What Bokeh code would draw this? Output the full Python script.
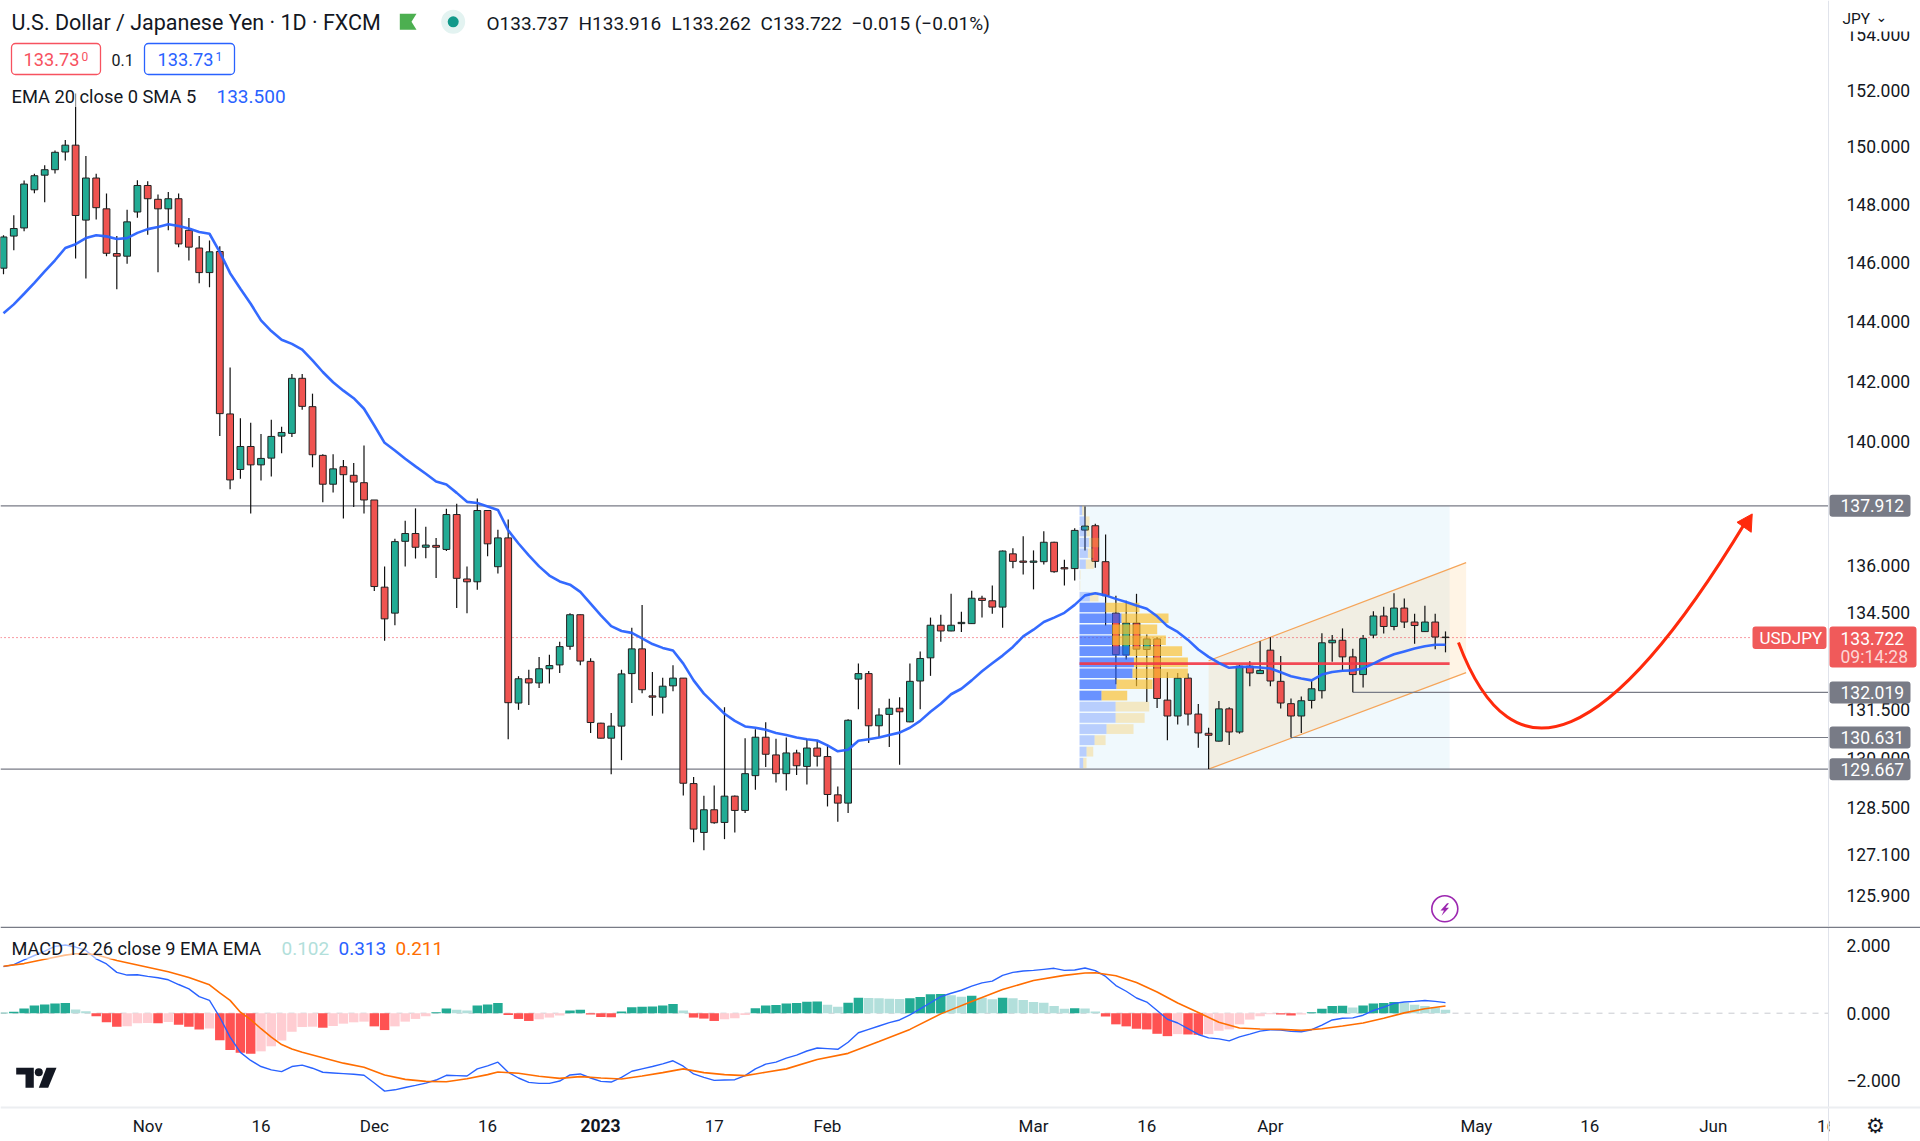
import math
from bokeh.plotting import figure
from bokeh.layouts import column
from bokeh.models import Range1d, FixedTicker, PrintfTickFormatter, Label, BoxAnnotation
from bokeh.embed import file_html
from bokeh.resources import INLINE

# ---------- DATA ----------
open_ = [145.80,146.90,147.18,148.50,149.01,149.20,149.82,150.06,147.45,148.91,147.84,146.30,146.21,147.73,148.65,148.17,147.84,148.19,147.10,146.49,145.65,146.37,140.91,139.09,139.84,139.24,139.46,140.18,140.27,142.09,141.15,139.55,138.61,139.18,138.90,138.66,138.10,135.31,134.49,136.77,137.02,136.58,136.64,136.51,137.63,135.57,135.48,137.76,135.96,136.88,131.69,132.44,132.31,132.75,132.87,133.45,134.44,132.98,131.07,130.61,130.98,132.60,133.37,131.91,131.87,132.22,132.46,129.23,127.76,128.44,128.06,128.85,128.42,129.47,130.64,130.10,129.53,130.16,129.75,130.31,130.05,128.89,128.64,132.43,132.60,130.99,131.34,131.53,131.11,132.37,133.09,134.11,133.93,134.16,134.16,134.96,134.88,134.68,136.37,136.14,136.10,136.12,136.74,135.93,135.90,137.13,137.27,136.12,134.49,133.18,134.18,133.35,133.68,131.78,131.29,132.46,131.35,130.76,130.52,131.51,130.80,132.83,132.60,133.33,132.36,131.67,131.29,131.77,132.07,133.56,133.64,133.12,132.57,133.80,134.40,134.07,134.65,134.21,133.91,134.21,133.737]
high = [146.93,147.62,148.82,149.06,149.36,149.87,150.24,151.89,149.68,149.06,148.37,146.90,147.81,148.83,148.80,148.34,148.42,148.37,147.52,146.90,146.75,146.55,142.45,140.77,140.62,140.25,140.72,140.49,142.23,142.23,141.58,139.59,139.59,139.40,139.30,139.87,138.10,135.97,136.85,137.43,137.83,137.24,136.88,137.82,137.98,135.97,138.15,137.78,137.14,137.47,132.52,132.72,133.12,133.19,133.59,134.49,134.45,133.08,131.08,131.38,132.72,134.03,134.75,132.65,132.47,132.86,132.46,129.43,128.86,129.17,131.56,128.87,130.61,130.88,131.10,130.59,130.63,130.26,130.58,130.53,130.41,129.14,131.19,132.91,132.68,131.53,131.82,131.87,132.91,133.29,134.35,134.44,135.10,134.53,135.20,135.04,135.36,136.48,136.55,136.93,136.48,137.09,136.76,136.18,137.19,137.89,137.33,136.99,135.04,134.88,135.10,133.82,133.73,132.64,132.62,132.60,131.66,130.93,131.75,131.56,132.87,132.98,133.61,133.73,133.15,131.83,131.89,132.37,133.86,133.80,134.01,133.37,133.80,134.55,134.69,135.12,134.95,134.47,134.72,134.47,133.916]
low = [145.59,146.41,147.07,148.38,148.07,149.07,149.52,146.13,145.45,147.47,146.21,145.08,145.95,147.53,146.95,145.66,147.10,146.52,146.06,145.29,145.15,140.18,138.45,138.79,137.66,138.73,138.86,139.62,140.15,141.05,139.16,138.03,138.34,137.50,137.87,137.66,135.19,133.62,134.11,135.97,136.22,136.23,135.60,136.46,134.65,134.49,135.23,136.29,135.74,130.58,131.48,131.63,132.15,132.29,132.62,133.34,132.86,130.77,130.60,129.51,129.94,131.69,131.99,131.30,131.37,132.05,128.87,127.47,127.23,128.02,127.56,127.76,128.34,129.04,129.73,129.26,129.02,129.49,129.20,129.75,128.54,128.08,128.34,131.50,130.46,130.62,130.34,129.80,131.10,131.50,132.53,133.59,133.92,133.90,134.16,134.35,134.47,134.03,135.91,135.71,135.24,136.03,135.77,135.36,135.52,136.48,135.93,134.10,132.27,133.04,132.21,131.72,131.54,130.55,131.03,131.00,130.32,129.67,130.51,130.40,130.75,132.21,132.59,132.21,131.52,130.63,130.77,131.52,131.83,132.97,132.70,132.02,132.17,133.70,133.85,133.95,134.02,133.53,133.90,133.36,133.262]
close = [146.87,147.16,148.70,148.99,149.20,149.81,150.06,147.61,148.91,147.88,146.31,146.21,147.39,148.65,148.19,147.84,148.19,146.63,146.52,145.65,146.36,140.92,138.75,139.84,139.24,139.45,140.17,140.30,142.09,141.16,139.57,138.61,139.11,138.92,138.68,138.10,135.33,134.31,136.76,137.02,136.58,136.65,136.58,137.63,135.59,135.48,137.76,136.69,136.88,131.70,132.44,132.31,132.75,132.85,133.44,134.44,132.99,131.09,130.61,130.98,132.59,133.37,132.10,131.87,132.21,132.46,129.24,127.86,128.44,128.05,128.85,128.42,129.53,130.64,130.12,129.53,130.16,129.77,130.31,130.06,128.90,128.64,131.16,132.60,130.99,131.32,131.53,131.42,132.36,133.07,134.11,133.93,134.11,134.20,134.96,134.89,134.68,136.46,136.13,136.10,136.14,136.74,135.80,135.89,137.12,137.26,136.13,135.04,133.19,134.18,133.36,133.68,131.83,131.29,132.46,131.35,130.77,130.70,131.51,130.80,132.83,132.62,132.70,132.37,131.69,131.29,131.76,132.13,133.56,133.64,133.12,132.57,133.69,134.40,134.07,134.65,134.21,134.10,134.21,133.74,133.722]
ema20 = [144.27,144.57,144.93,145.30,145.69,146.07,146.49,146.62,146.83,146.93,146.89,146.80,146.83,147.01,147.14,147.21,147.31,147.25,147.16,147.04,146.98,146.35,145.63,145.10,144.59,144.03,143.67,143.38,143.24,143.05,142.69,142.30,141.96,141.68,141.43,141.08,140.53,139.96,139.71,139.44,139.19,138.95,138.70,138.60,138.33,138.04,138.00,137.89,137.78,137.12,136.70,136.32,135.97,135.68,135.49,135.39,135.16,134.79,134.42,134.08,133.93,133.87,133.70,133.52,133.40,133.32,132.91,132.39,131.98,131.67,131.36,131.14,130.97,130.93,130.87,130.77,130.71,130.63,130.58,130.54,130.39,130.21,130.26,130.53,130.58,130.63,130.71,130.78,130.93,131.14,131.42,131.67,131.96,132.13,132.39,132.67,132.92,133.16,133.43,133.76,133.97,134.21,134.35,134.50,134.75,135.05,135.12,135.05,134.94,134.84,134.73,134.63,134.39,134.08,133.90,133.65,133.35,133.12,132.93,132.78,132.81,132.81,132.79,132.76,132.64,132.52,132.45,132.39,132.57,132.65,132.69,132.70,132.76,132.91,133.07,133.20,133.29,133.38,133.45,133.50,133.50]
macd_hist = [0.01,0.04,0.14,0.23,0.26,0.29,0.30,0.11,0.06,-0.09,-0.27,-0.40,-0.39,-0.30,-0.29,-0.30,-0.26,-0.34,-0.40,-0.48,-0.45,-0.80,-1.09,-1.17,-1.20,-1.13,-0.98,-0.81,-0.55,-0.41,-0.40,-0.43,-0.38,-0.31,-0.27,-0.25,-0.39,-0.50,-0.39,-0.25,-0.17,-0.09,0.03,0.14,0.10,0.08,0.23,0.26,0.30,-0.05,-0.17,-0.23,-0.18,-0.13,-0.07,0.08,0.10,-0.04,-0.11,-0.12,0.05,0.18,0.19,0.20,0.23,0.27,0.08,-0.13,-0.16,-0.23,-0.18,-0.15,-0.05,0.15,0.23,0.24,0.29,0.30,0.34,0.35,0.25,0.19,0.31,0.46,0.45,0.44,0.43,0.42,0.44,0.48,0.56,0.57,0.53,0.49,0.52,0.46,0.41,0.46,0.44,0.39,0.33,0.31,0.21,0.13,0.15,0.14,0.05,-0.10,-0.33,-0.39,-0.46,-0.48,-0.61,-0.68,-0.62,-0.63,-0.64,-0.62,-0.52,-0.48,-0.33,-0.19,-0.09,-0.03,-0.04,-0.07,-0.04,0.03,0.13,0.21,0.22,0.17,0.23,0.29,0.30,0.33,0.31,0.25,0.21,0.17,0.102]
macd_line = [1.38,1.44,1.58,1.71,1.84,1.98,2.02,1.96,1.86,1.61,1.46,1.21,1.13,1.14,1.09,1.05,0.99,0.85,0.72,0.49,0.38,-0.12,-0.71,-1.16,-1.40,-1.58,-1.68,-1.73,-1.58,-1.54,-1.63,-1.75,-1.77,-1.79,-1.81,-1.84,-2.07,-2.31,-2.27,-2.20,-2.14,-2.07,-1.98,-1.84,-1.85,-1.86,-1.65,-1.56,-1.45,-1.75,-1.92,-2.05,-2.08,-2.08,-2.01,-1.83,-1.80,-1.92,-2.02,-2.04,-1.90,-1.72,-1.65,-1.58,-1.50,-1.41,-1.57,-1.80,-1.90,-1.99,-1.98,-1.97,-1.85,-1.65,-1.51,-1.45,-1.33,-1.24,-1.12,-1.03,-1.05,-1.07,-0.86,-0.58,-0.48,-0.38,-0.28,-0.20,-0.05,0.13,0.31,0.49,0.59,0.68,0.80,0.90,0.95,1.12,1.21,1.25,1.27,1.30,1.33,1.27,1.28,1.34,1.26,1.09,0.82,0.65,0.45,0.33,0.08,-0.18,-0.29,-0.46,-0.63,-0.73,-0.76,-0.82,-0.70,-0.62,-0.53,-0.49,-0.50,-0.54,-0.55,-0.49,-0.35,-0.20,-0.15,-0.14,-0.06,0.08,0.18,0.29,0.33,0.35,0.375,0.35,0.313]
signal_bar = [0,2,4,6,7,8,9,11,13,16,18,20,21,22,23,24,25,26,27,28,29,31,33,35,37,39,41,43,45,47,48,50,52,54,56,58,60,62,64,66,68,70,72,73,74,76,79,82,85,88,91,94,97,100,103,105,106,108,110,112,114,116,118,120,122,124,126,128,130,132,134,136,138,140]
signal_line = [1.39,1.47,1.60,1.72,1.76,1.76,1.73,1.56,1.43,1.23,1.06,0.84,0.60,0.38,0.03,-0.19,-0.46,-0.71,-0.93,-1.06,-1.16,-1.32,-1.48,-1.60,-1.83,-1.96,-2.02,-2.03,-1.94,-1.82,-1.74,-1.78,-1.87,-1.93,-1.88,-1.92,-1.95,-1.86,-1.76,-1.65,-1.76,-1.82,-1.85,-1.80,-1.75,-1.65,-1.37,-1.19,-0.84,-0.48,-0.02,0.35,0.70,0.97,1.12,1.19,1.20,1.11,0.91,0.63,0.30,0.02,-0.27,-0.44,-0.47,-0.48,-0.51,-0.46,-0.38,-0.29,-0.15,0.01,0.13,0.211]

vp_row_top = [137.91,137.57,137.23,136.88,136.54,136.19,135.85,135.51,135.16,134.82,134.48,134.13,133.79,133.45,133.10,132.76,132.42,132.07,131.73,131.38,131.04,130.70,130.35,130.01]
vp_row_bottom = [137.61,137.27,136.93,136.58,136.24,135.89,135.55,135.21,134.86,134.52,134.18,133.83,133.49,133.15,132.80,132.46,132.12,131.77,131.43,131.08,130.74,130.40,130.05,129.70]
vp_up = [0.26,0.58,0.68,0.91,0.81,0.61,0.03,0.02,1.00,2.52,4.08,3.17,3.17,4.85,5.28,5.15,3.59,2.14,3.50,3.50,2.62,1.46,0.68,0.36]
vp_down = [0.16,0.39,0.32,0.97,0.58,0.78,0.06,0.05,0.84,3.30,4.56,4.37,5.21,5.11,5.24,5.37,3.50,2.49,3.27,2.82,2.62,1.07,0.65,0.32]
vp_value_area = [False]*9 + [True]*9 + [False]*6
vp_start_bar = 104.47
vp_end_bar = 140.4
vp_poc = 132.91

level_high = 137.912
level_low = 129.667
level_mid1 = 132.019
level_mid1_bar = 131
level_mid2 = 130.631
level_mid2_bar = 125
last_price = 133.722

channel_bars = [117, 142]
channel_upper = [133.0, 136.09]
channel_lower = [129.667, 132.63]

arrow_bars = [141.26, 149.2, 169.1]   # start, control, end
arrow_prices = [133.57, 126.92, 137.37]
arrow_head_bars = [169.78, 168.3, 169.68]
arrow_head_prices = [137.65, 137.38, 137.06]

price_ticks = [154, 152, 150, 148, 146, 144, 142, 140, 136, 134.5, 131.5, 130, 128.5, 127.1, 125.9]
macd_ticks = [2, 0, -2]
time_ticks = {14: "Nov", 25: "16", 36: "Dec", 47: "16", 58: "", 69: "17", 80: "Feb", 100: "Mar",
              111: "16", 123: "Apr", 143: "May", 154: "16", 166: "Jun", 177: "16"}

# ---------- PANE GEOMETRY ----------
BAR0 = 3.0; STEP = 10.3
def X(px): return (px - BAR0) / STEP
def Y(py): return 137.912 * math.exp((505.3 - py) / 4272.0)
def Y2(py): return (1012.7 - py) / 33.75

x_range = Range1d(X(0), X(1920))
AXIS_X = X(1828)
INK = "#131722"; GREY = "#787b86"; FONT = "Roboto"
UP = "#22ab94"; DOWN = "#ef5350"; BLUE = "#2962ff"; ORANGE = "#ff6d00"

p = figure(width=1920, height=926, x_range=x_range, y_range=Range1d(Y(926), Y(0)),
           y_axis_type="log", y_axis_location="right", x_axis_location=None,
           output_backend="svg", toolbar_location=None, min_border=0, outline_line_color=None,
           background_fill_color="white", border_fill_color="white")
p.grid.visible = False
p.yaxis.fixed_location = AXIS_X
p.yaxis.ticker = FixedTicker(ticks=price_ticks)
p.yaxis.formatter = PrintfTickFormatter(format="%.3f")
p.yaxis.major_tick_line_color = None
p.yaxis.minor_tick_line_color = None
p.yaxis.axis_line_color = "#e0e3eb"
p.yaxis.major_label_text_font = FONT
p.yaxis.major_label_text_font_size = "17.5px"
p.yaxis.major_label_text_color = INK
p.yaxis.major_label_standoff = 12

# profile background
p.quad(left=[vp_start_bar], right=[vp_end_bar], top=[level_high], bottom=[level_low],
       fill_color="#f0f9fd", line_color=None)
# channel
p.patch(channel_bars + channel_bars[::-1], channel_upper + channel_lower[::-1],
        fill_color="#ff9800", fill_alpha=0.1, line_color=None)
p.line(channel_bars, channel_upper, line_color="#f5a55a", line_width=1.2)
p.line(channel_bars, channel_lower, line_color="#f5a55a", line_width=1.2)
# horizontal levels
p.segment([X(0), X(0)], [level_high, level_low], [AXIS_X]*2, [level_high, level_low],
          line_color=GREY, line_width=1.2)
p.segment([level_mid1_bar, level_mid2_bar], [level_mid1, level_mid2], [AXIS_X]*2, [level_mid1, level_mid2],
          line_color=GREY, line_width=1.2)
p.line([X(0), X(1752)], [last_price]*2, line_color="#f23645", line_width=1, line_dash=[1, 3])

# candles
bars = list(range(len(close)))
p.segment(bars, high, bars, low, line_color="#111111", line_width=1.2)
colors = [UP if c >= o else DOWN for o, c in zip(open_, close)]
p.vbar(x=bars, width=0.66, top=[max(o, c) for o, c in zip(open_, close)],
       bottom=[min(o, c) for o, c in zip(open_, close)], fill_color=colors, line_color="#222222", line_width=1)

# volume profile
for i, top in enumerate(vp_row_top):
    a = 0.68 if vp_value_area[i] else 0.28
    p.quad(left=[vp_start_bar], right=[vp_start_bar + vp_up[i]], top=[top], bottom=[vp_row_bottom[i]],
           fill_color=BLUE, fill_alpha=a, line_color=None)
    p.quad(left=[vp_start_bar + vp_up[i]], right=[vp_start_bar + vp_up[i] + vp_down[i]], top=[top],
           bottom=[vp_row_bottom[i]], fill_color="#fbc02d", fill_alpha=a, line_color=None)
p.line([vp_start_bar, vp_end_bar], [vp_poc]*2, line_color="#f23645", line_width=2.6, line_alpha=0.9)

# EMA
p.line(bars, ema20, line_color=BLUE, line_width=2.6, line_alpha=0.95)

# drawn arrow
p.quadratic(x0=[arrow_bars[0]], y0=[arrow_prices[0]], cx=[arrow_bars[1]], cy=[arrow_prices[1]],
            x1=[arrow_bars[2]], y1=[arrow_prices[2]], line_color="#ff2a0c", line_width=3)
p.patch(arrow_head_bars, arrow_head_prices, fill_color="#ff2a0c", line_color="#ff2a0c")

# icons
p.patch([X(v) for v in (399.3, 416, 411, 416, 399.3)], [Y(v) for v in (13.3, 13.3, 21.3, 29.3, 29.3)],
        fill_color="#4caf50", line_color=None)
p.scatter([X(452.7)], [Y(21.3)], size=24, marker="circle", fill_color="#e3f3f1", line_color=None)
p.scatter([X(452.7)], [Y(21.3)], size=11, marker="circle", fill_color="#12998a", line_color=None)
p.scatter([X(1444.3)], [Y(908.3)], size=26, marker="circle", fill_color="white", line_color="#9c27b0", line_width=1.6)
p.patch([X(v) for v in (1446.5, 1440, 1443.5, 1441, 1448.5, 1445, 1448.5)],
        [Y(v) for v in (902.7, 910, 910, 915.3, 907.3, 907.3, 902.7)], fill_color="#9c27b0", line_color=None)

def text(fig, yf, x, y, s, size=18, color=INK, align="left", style="normal", font=FONT, bg=None):
    kw = dict(background_fill_color=bg, background_fill_alpha=0.55) if bg else {}
    fig.add_layout(Label(x=X(x), y=yf(y), text=s, text_font=font, text_font_size=f"{size}px", text_color=color,
                         text_align=align, text_baseline="middle", text_font_style=style, level="overlay", **kw))

def box(fig, yf, x0, x1, y0, y1, fill, line=None, lw=1, r=0):
    fig.add_layout(BoxAnnotation(left=X(x0), right=X(x1), top=yf(y0), bottom=yf(y1), fill_color=fill, fill_alpha=1,
                                 line_color=line, line_width=lw, line_alpha=1, border_radius=r, level="overlay"))

# header
text(p, Y, 11, 22, "U.S. Dollar / Japanese Yen · 1D · FXCM", size=21.5)
for hx, s in ((486, "O133.737"), (578, "H133.916"), (671, "L133.262"), (760, "C133.722"), (851, "−0.015 (−0.01%)")):
    text(p, Y, hx, 23, s, size=19)
box(p, Y, 11, 100, 43, 74, "white", "#f7525f", 1.3, 4)
text(p, Y, 23, 59, "133.73", size=18.2, color="#f7525f")
text(p, Y, 81, 56, "0", size=12, color="#f7525f")
text(p, Y, 111, 59, "0.1", size=16)
box(p, Y, 144, 234, 43, 74, "white", BLUE, 1.3, 4)
text(p, Y, 157, 59, "133.73", size=18.2, color=BLUE)
text(p, Y, 215, 56, "1", size=12, color=BLUE)
text(p, Y, 11, 96, "EMA 20 close 0 SMA 5", size=18.3, bg="white")
text(p, Y, 216, 96, "133.500", size=19, color=BLUE)
# right scale cap
box(p, Y, 1829, 1920, 0, 31, "white")
text(p, Y, 1842, 18, "JPY", size=15.5)
text(p, Y, 1875, 16, "⌄", size=14, font="DejaVu Sans")
# price tags
for lv_y, s in ((505.3, "137.912"), (692, "132.019"), (737, "130.631"), (768.7, "129.667")):
    box(p, Y, 1829, 1910, lv_y - 11, lv_y + 11, GREY, r=3)
    text(p, Y, 1840, lv_y, s, size=17.5, color="white")
box(p, Y, 1752, 1826, 626, 648.5, "#f05a5a", r=3)
text(p, Y, 1759, 637.5, "USDJPY", size=17, color="white")
box(p, Y, 1829, 1916, 626, 667, "#f05a5a", r=3)
text(p, Y, 1840, 637.5, "133.722", size=17.5, color="white")
text(p, Y, 1840, 656, "09:14:28", size=17.5, color="#fcd5d5")

# ---------- MACD PANE ----------
q = figure(width=1920, height=215, x_range=x_range, y_range=Range1d(Y2(1141), Y2(926)),
           y_axis_location="right", output_backend="svg", toolbar_location=None, min_border=0,
           outline_line_color=None, background_fill_color="white", border_fill_color="white")
q.grid.visible = False
q.yaxis.fixed_location = AXIS_X
q.yaxis.ticker = FixedTicker(ticks=macd_ticks)
q.yaxis.major_label_overrides = {2: "2.000", 0: "0.000", -2: "−2.000"}
q.yaxis.major_tick_line_color = None
q.yaxis.minor_tick_line_color = None
q.yaxis.axis_line_color = "#e0e3eb"
q.yaxis.major_label_text_font = FONT
q.yaxis.major_label_text_font_size = "17.5px"
q.yaxis.major_label_text_color = INK
q.yaxis.major_label_standoff = 12
q.xaxis.fixed_location = Y2(1107)
q.xaxis.ticker = FixedTicker(ticks=list(time_ticks))
q.xaxis.major_label_overrides = time_ticks
q.xaxis.major_tick_line_color = None
q.xaxis.minor_tick_line_color = None
q.xaxis.axis_line_color = None
q.xaxis.major_label_text_font = FONT
q.xaxis.major_label_text_font_size = "17px"
q.xaxis.major_label_text_color = INK
q.xaxis.major_label_standoff = 2

q.line([X(0), AXIS_X], [0, 0], line_color="#c8cad0", line_width=1, line_dash=[6, 6])
hist_colors = []
for i, v in enumerate(macd_hist):
    prev = macd_hist[i - 1] if i else 0
    if v >= 0:
        hist_colors.append("#22ab94" if v > prev else "#b2dfdb")
    else:
        hist_colors.append("#ff5252" if v < prev else "#ffcdd2")
q.vbar(x=bars, width=0.92, top=[max(v, 0) for v in macd_hist], bottom=[min(v, 0) for v in macd_hist],
       fill_color=hist_colors, line_color=None)
q.line(bars, macd_line, line_color=BLUE, line_width=1.4)
q.line(signal_bar, signal_line, line_color=ORANGE, line_width=1.6)

# TradingView mark
q.patch([X(v) for v in (15.7, 33.3, 33.3, 25, 25, 15.7)], [Y2(v) for v in (1067.3, 1067.3, 1087.3, 1087.3, 1074, 1074)],
        fill_color=INK, line_color=None)
q.scatter([X(38.3)], [Y2(1071.7)], size=8, marker="circle", fill_color=INK, line_color=None)
q.patch([X(v) for v in (46, 56, 47.7, 38.3)], [Y2(v) for v in (1067.3, 1067.3, 1087.3, 1087.3)],
        fill_color=INK, line_color=None)

text(q, Y2, 11, 948, "MACD 12 26 close 9 EMA EMA", size=18.2, bg="white")
text(q, Y2, 281, 948, "0.102", size=19, color="#b2dfdb")
text(q, Y2, 338, 948, "0.313", size=19, color=BLUE)
text(q, Y2, 395, 948, "0.211", size=19, color=ORANGE)

box(q, Y2, 0, 1920, 926, 927.5, GREY)
box(q, Y2, 0, 1920, 1106, 1108, "#eceef1")
box(q, Y2, 1829, 1920, 1108.5, 1141, "white")
text(q, Y2, 600, 1125, "2023", size=17.5, align="center", style="bold")
text(q, Y2, 1875, 1125, "⚙", size=21, align="center", font="DejaVu Sans")

open("out.html", "w").write(file_html(column(p, q, spacing=0), INLINE))
